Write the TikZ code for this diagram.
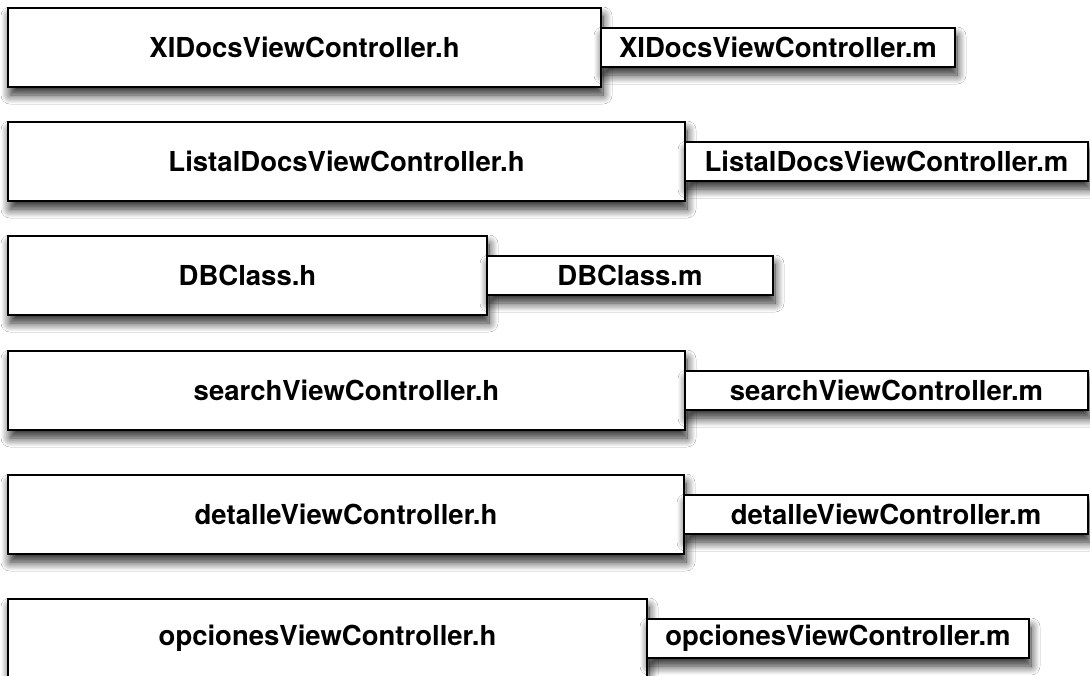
\documentclass[tikz,border=0pt]{standalone}
\usepackage{fontspec}
\setmainfont{TeX Gyre Heros}
\usetikzlibrary{positioning,shadows.blur}
\tikzstyle{hfile}=[draw=black,line width=1.8pt,fill=white,outer sep=0pt,inner sep=0pt,minimum height=79pt,font=\bfseries\fontsize{27.5}{32}\selectfont,blur shadow={shadow xshift=2pt,shadow yshift=-8pt,shadow blur radius=9pt,shadow blur steps=12,shadow opacity=85}]
\tikzstyle{mfile}=[hfile,minimum height=39pt]

\begin{document}
\begin{tikzpicture}[x=1pt,y=1pt]
  \useasboundingbox[fill=white] (0,0) rectangle (1090,-675);

  \node[hfile,minimum width=593pt,anchor=north west] (hXI) at (8,-8) {XIDocsViewController.h};
  \node[mfile,minimum width=354pt] (mXI) [right=0pt of hXI] {XIDocsViewController.m};

  \node[hfile,minimum width=677pt] (hListal) [below=35pt of hXI.south west,anchor=north west] {ListalDocsViewController.h};
  \node[mfile,minimum width=403pt] (mListal) [right=0pt of hListal] {ListalDocsViewController.m};

  \node[hfile,minimum width=479pt] (hDB) [below=35pt of hListal.south west,anchor=north west] {DBClass.h};
  \node[mfile,minimum width=286pt] (mDB) [right=0pt of hDB] {DBClass.m};

  \node[hfile,minimum width=677pt] (hSearch) [below=36pt of hDB.south west,anchor=north west] {searchViewController.h};
  \node[mfile,minimum width=403pt] (mSearch) [right=0pt of hSearch] {searchViewController.m};

  \node[hfile,minimum width=676pt] (hDetalle) [below=45pt of hSearch.south west,anchor=north west] {detalleViewController.h};
  \node[mfile,minimum width=404pt] (mDetalle) [right=0pt of hDetalle] {detalleViewController.m};

  \node[hfile,minimum width=639pt] (hOpciones) [below=45pt of hDetalle.south west,anchor=north west] {opcionesViewController.h};
  \node[mfile,minimum width=382pt] (mOpciones) [right=0pt of hOpciones] {opcionesViewController.m};
\end{tikzpicture}
\end{document}
